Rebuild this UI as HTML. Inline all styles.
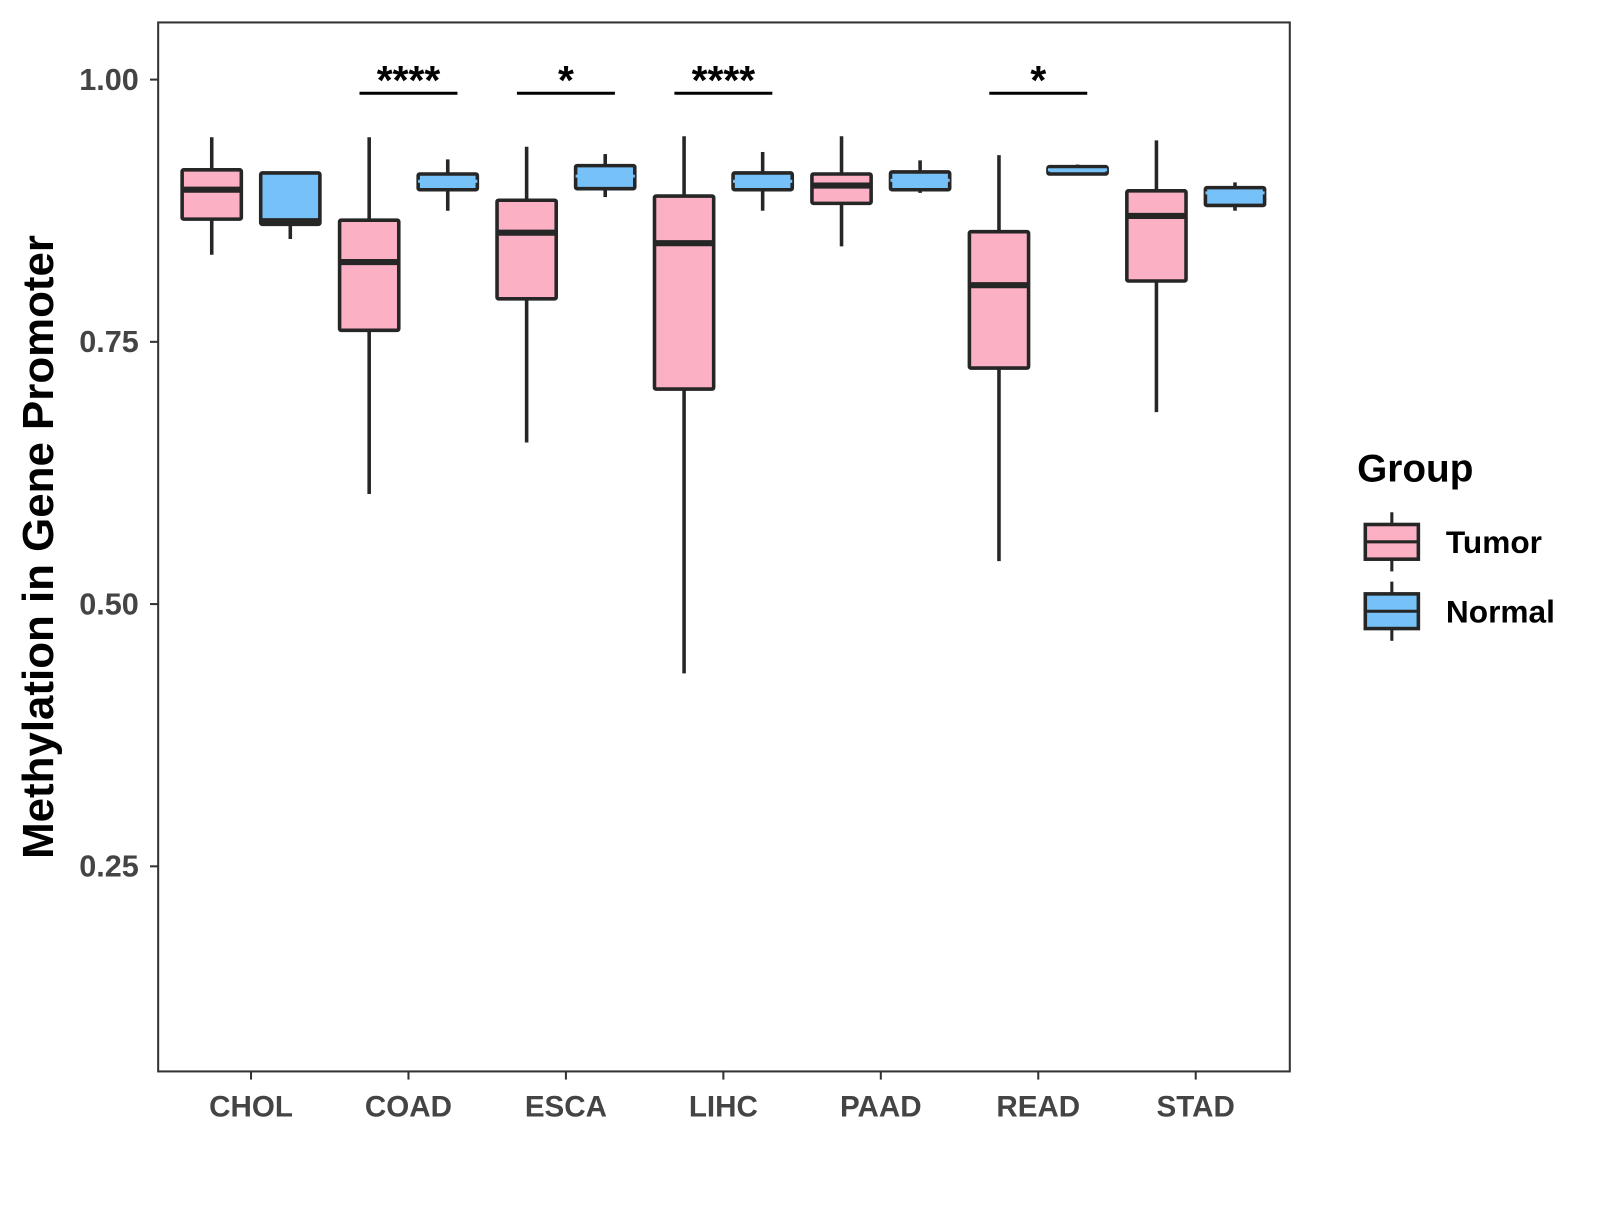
<!DOCTYPE html>
<html><head><meta charset="utf-8"><style>
body{margin:0;background:#fff;}
svg text{font-family:"Liberation Sans",sans-serif;font-weight:bold;}
</style></head><body>
<svg id="chart" width="1600" height="1200" viewBox="0 0 1568 1176">
<rect x="155" y="22" width="1109" height="1028" fill="#fff" stroke="#333" stroke-width="2"/>
<g id="yaxis"></g><g id="xaxis"></g><g id="boxes"></g><g id="sig"></g>
<text transform="translate(52,536) rotate(-90)" text-anchor="middle" font-size="43" fill="#000">Methylation in Gene Promoter</text>
<g>
<text x="1330" y="472" font-size="38" fill="#000">Group</text>
<g>
<line x1="1364" y1="502" x2="1364" y2="560" stroke="#262626" stroke-width="3"/>
<rect x="1338" y="514" width="52" height="34" fill="#fbb0c4" stroke="#262626" stroke-width="3.5"/>
<line x1="1338" y1="531" x2="1390" y2="531" stroke="#262626" stroke-width="3"/>
<text x="1417" y="542" font-size="31" fill="#000">Tumor</text></g>
<g>
<line x1="1364" y1="570" x2="1364" y2="628" stroke="#262626" stroke-width="3"/>
<rect x="1338" y="582" width="52" height="34" fill="#76c1f8" stroke="#262626" stroke-width="3.5"/>
<line x1="1338" y1="599" x2="1390" y2="599" stroke="#262626" stroke-width="3"/>
<text x="1417" y="610" font-size="31" fill="#000">Normal</text></g>
</g>
</svg>
<script>
const categories=["CHOL","COAD","ESCA","LIHC","PAAD","READ","STAD"];
const tumorLow=[0.833,0.605,0.654,0.434,0.841,0.541,0.683];
const tumorQ1=[0.867,0.761,0.791,0.705,0.882,0.725,0.808];
const tumorMed=[0.895,0.826,0.854,0.844,0.899,0.804,0.870];
const tumorQ3=[0.914,0.866,0.885,0.889,0.910,0.855,0.894];
const tumorHigh=[0.945,0.945,0.936,0.946,0.946,0.928,0.942];
const normalLow=[0.848,0.875,0.888,0.875,0.892,0.909,0.875];
const normalQ1=[0.862,0.895,0.896,0.895,0.895,0.910,0.880];
const normalMed=[0.865,0.903,0.908,0.903,0.904,0.914,0.892];
const normalQ3=[0.911,0.910,0.918,0.911,0.912,0.917,0.897];
const normalHigh=[0.911,0.924,0.929,0.931,0.923,0.919,0.902];
const yTicks=[0.25,0.50,0.75,1.00];
const yTickLabels=["0.25","0.50","0.75","1.00"];
const sigCats=["COAD","ESCA","LIHC","READ"];
const sigLabels=["****","*","****","*"];
const sigLevel=[0.987,0.987,0.987,0.987];

const NS="http://www.w3.org/2000/svg";
const y=v=>78+(1-v)*1028;
const x=i=>246+i*154.3;
function mk(parent,tag,attrs){const e=document.createElementNS(NS,tag);for(const k in attrs)e.setAttribute(k,attrs[k]);document.getElementById(parent).appendChild(e);return e;}
yTicks.forEach((t,i)=>{
  const l=mk("yaxis","line",{x1:147,x2:155,y1:y(t),y2:y(t),stroke:"#333","stroke-width":2});
  
  
  const tx=mk("yaxis","text",{x:136,y:y(t)+10,"text-anchor":"end","font-size":30,fill:"#444"});
  tx.textContent=yTickLabels[i];
  
  
});
categories.forEach((c,i)=>{
  const l=mk("xaxis","line",{x1:x(i),x2:x(i),y1:1050,y2:1058,stroke:"#333","stroke-width":2});
  
  
  const tx=mk("xaxis","text",{x:x(i),y:1094,"text-anchor":"middle","font-size":29,fill:"#444"});
  tx.textContent=c;
  
  
});
function box(i,off,lo,q1,md,q3,hi,fill,medCol,medW,name){
  const cx=x(i)+off;
  const g=mk("boxes","g",{});
  
  
  const a=(t,at)=>{const e=document.createElementNS(NS,t);for(const k in at)e.setAttribute(k,at[k]);g.appendChild(e);};
  a("line",{x1:cx,x2:cx,y1:y(hi),y2:y(lo),stroke:"#262626","stroke-width":3.5});
  a("rect",{x:cx-29,y:y(q3),width:58,height:Math.max(y(q1)-y(q3),1),fill:fill,stroke:"#262626","stroke-width":3.5,rx:1.5});
  a("line",{x1:cx-29,x2:cx+29,y1:y(md),y2:y(md),stroke:medCol,"stroke-width":medW});
}
categories.forEach((c,i)=>{
  box(i,-38.5,tumorLow[i],tumorQ1[i],tumorMed[i],tumorQ3[i],tumorHigh[i],"#fbb0c4","#262626",6,"tumor-box-"+c.toLowerCase());
  box(i,38.5,normalLow[i],normalQ1[i],normalMed[i],normalQ3[i],normalHigh[i],"#76c1f8",i===0?"#262626":"#76c1f8",i===0?6:3,"normal-box-"+c.toLowerCase());
});
sigCats.forEach((c,k)=>{
  const i=categories.indexOf(c);
  const l=mk("sig","line",{x1:x(i)-48,x2:x(i)+48,y1:y(sigLevel[k]),y2:y(sigLevel[k]),stroke:"#000","stroke-width":3});
  
  
  const tx=mk("sig","text",{x:x(i),y:y(sigLevel[k])+1,"text-anchor":"middle","font-size":40,fill:"#000"});
  tx.textContent=sigLabels[k];
  
  
});
</script>
</body></html>
